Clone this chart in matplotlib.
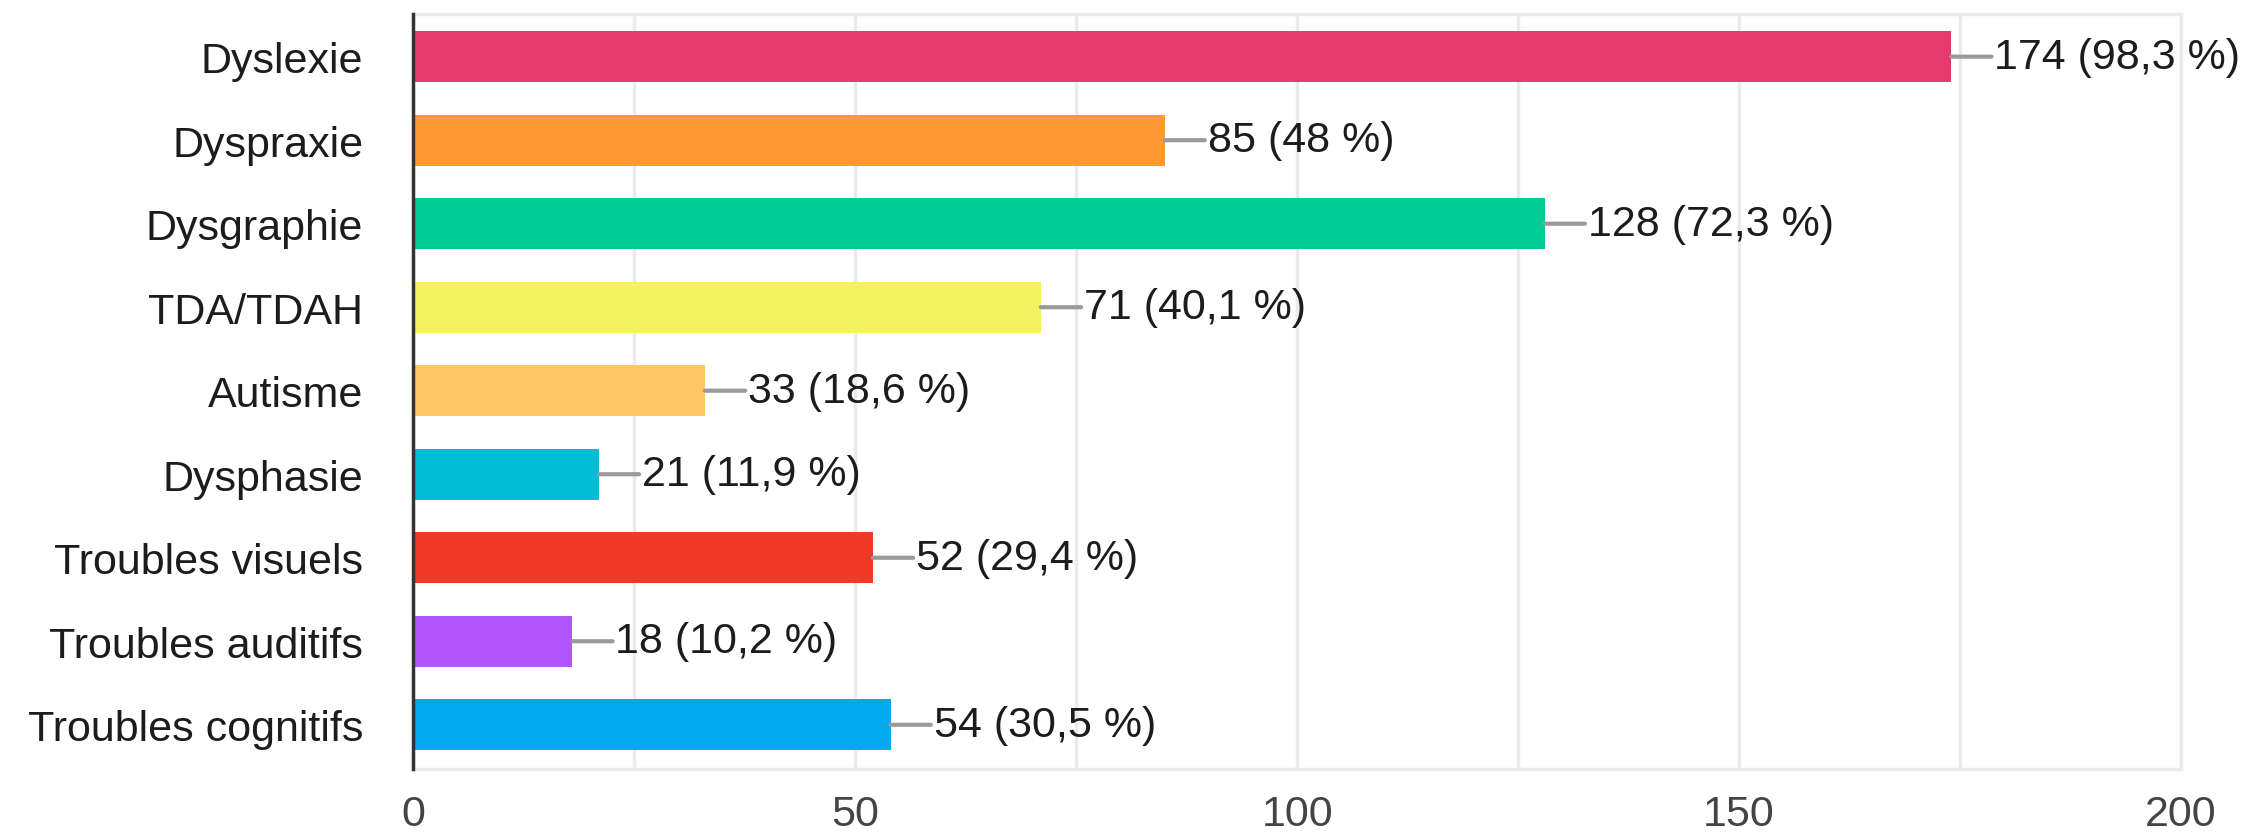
import matplotlib
matplotlib.use("Agg")
from matplotlib import pyplot as plt
from matplotlib.ticker import MultipleLocator

categories = ["Dyslexie", "Dyspraxie", "Dysgraphie", "TDA/TDAH", "Autisme",
              "Dysphasie", "Troubles visuels", "Troubles auditifs", "Troubles cognitifs"]
counts = [174, 85, 128, 71, 33, 21, 52, 18, 54]
percents = ["98,3", "48", "72,3", "40,1", "18,6", "11,9", "29,4", "10,2", "30,5"]
colors = ["#E93A70", "#FF9933", "#00CC96", "#F4F35F", "#FFC566",
          "#00BCD4", "#EF3A25", "#B355FF", "#03AAF0"]
x_ticks = [0, 50, 100, 150, 200]

plt.rcParams['font.family'] = ['Liberation Sans', 'DejaVu Sans']

fig = plt.figure(figsize=(22.52, 8.37), dpi=100)
ax = fig.add_axes([0.1835, 0.080, 0.9685 - 0.1835, 0.902])

pos = range(len(categories))
ax.barh(pos, counts, height=0.61, color=colors, zorder=3)

# value labels with a small grey connector
for i, (v, p) in enumerate(zip(counts, percents)):
    ax.annotate(f"{v} ({p} %)", xy=(v, i), xytext=(31, 0), textcoords="offset points",
                ha="left", va="center", fontsize=31, color="#1c1c1c",
                arrowprops=dict(arrowstyle="-", color="#9a9a9a", lw=3,
                                shrinkA=0, shrinkB=0, relpos=(0, 0.5)),
                annotation_clip=False, zorder=4)

ax.set_xlim(0, 200)
ax.set_ylim(len(categories) - 0.47, -0.51)
ax.set_yticks(list(pos))
ax.set_yticklabels(categories)
ax.set_xticks(x_ticks)
ax.xaxis.set_minor_locator(MultipleLocator(25))
ax.grid(True, axis="x", which="both", color="#ebebeb", lw=2.5, zorder=0)
ax.grid(False, axis="y")

ax.tick_params(axis="y", length=0, pad=36, labelsize=31, labelcolor="#1c1c1c")
ax.tick_params(axis="x", which="both", length=0, pad=18, labelsize=31, labelcolor="#444444")

for side in ["top", "right", "bottom"]:
    ax.spines[side].set_color("#ebebeb")
    ax.spines[side].set_linewidth(2.5)
ax.spines["left"].set_color("#333333")
ax.spines["left"].set_linewidth(2.5)
ax.spines["left"].set_zorder(5)

plt.savefig("out.png", dpi=100)
